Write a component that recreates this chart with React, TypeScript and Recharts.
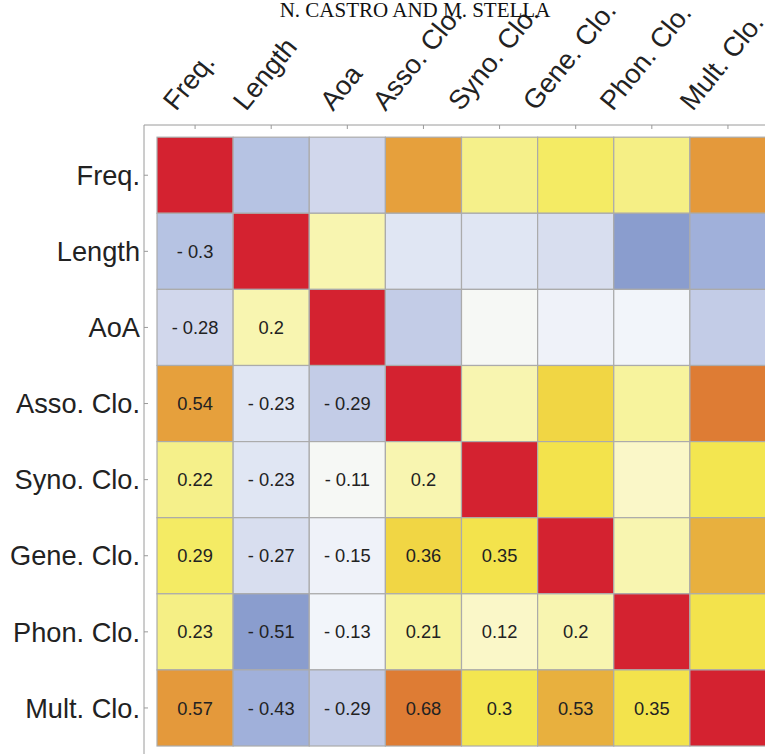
import { ScatterChart, Scatter, XAxis, YAxis } from 'recharts';

// row labels (left) and column labels (top) as printed
const rowLabels = ['Freq.', 'Length', 'AoA', 'Asso. Clo.', 'Syno. Clo.', 'Gene. Clo.', 'Phon. Clo.', 'Mult. Clo.'];
const columnLabels = ['Freq.', 'Length', 'Aoa', 'Asso. Clo.', 'Syno. Clo.', 'Gene. Clo.', 'Phon. Clo.', 'Mult. Clo.'];

// lower triangle of the correlation matrix, one array per row
const freqRow: number[] = [];
const lengthRow = [-0.3];
const aoaRow = [-0.28, 0.2];
const assoRow = [0.54, -0.23, -0.29];
const synoRow = [0.22, -0.23, -0.11, 0.2];
const geneRow = [0.29, -0.27, -0.15, 0.36, 0.35];
const phonRow = [0.23, -0.51, -0.13, 0.21, 0.12, 0.2];
const multRow = [0.57, -0.43, -0.29, 0.68, 0.3, 0.53, 0.35];

const lowerRows = [freqRow, lengthRow, aoaRow, assoRow, synoRow, geneRow, phonRow, multRow];
const tickPositions = [0.5, 1.5, 2.5, 3.5, 4.5, 5.5, 6.5, 7.5];

const CELL_W = 76.125;
const CELL_H = 76.1;
const FRAME = '#9a9a9a';
const LABEL_FONT = '"Liberation Sans", Arial, sans-serif';
const LABEL_SIZE = 27.2;

// colour scale stops
const colorStops: [number, string][] = [
  [-0.51, '#8a9dce'],
  [-0.43, '#a0b0da'],
  [-0.3, '#b6c3e3'],
  [-0.29, '#c3cce7'],
  [-0.28, '#d1d7ec'],
  [-0.27, '#d8deef'],
  [-0.23, '#e0e6f3'],
  [-0.15, '#eff2f9'],
  [-0.13, '#f2f5fa'],
  [-0.11, '#f6f8f5'],
  [0.12, '#faf7c8'],
  [0.2, '#f8f5b0'],
  [0.22, '#f5f08a'],
  [0.29, '#f4eb64'],
  [0.3, '#f3e650'],
  [0.35, '#f3e34c'],
  [0.36, '#f1d644'],
  [0.53, '#e8b03e'],
  [0.54, '#e6a03c'],
  [0.57, '#e4993b'],
  [0.68, '#de7c34'],
  [1, '#d42230'],
];

function hexToRgb(h: string) {
  return [1, 3, 5].map((i) => parseInt(h.slice(i, i + 2), 16));
}

function colorFor(v: number): string {
  if (v <= colorStops[0][0]) return colorStops[0][1];
  for (let i = 1; i < colorStops.length; i++) {
    const [v1, c1] = colorStops[i];
    if (v <= v1) {
      const [v0, c0] = colorStops[i - 1];
      const t = (v - v0) / (v1 - v0);
      const a = hexToRgb(c0);
      const b = hexToRgb(c1);
      const rgb = a.map((x, k) => Math.round(x + (b[k] - x) * t));
      return `rgb(${rgb.join(',')})`;
    }
  }
  return colorStops[colorStops.length - 1][1];
}

function valueAt(r: number, c: number): number {
  if (r === c) return 1;
  return r > c ? lowerRows[r][c] : lowerRows[c][r];
}

const cells = rowLabels.flatMap((_, r) =>
  columnLabels.map((__, c) => ({
    x: c + 0.5,
    y: r + 0.5,
    v: valueAt(r, c),
    labelled: r > c,
  }))
);

function formatValue(v: number) {
  return v < 0 ? `- ${Math.abs(v)}` : `${v}`;
}

function Cell(props: any) {
  const { cx, cy, payload } = props;
  return (
    <g>
      <rect
        x={cx - CELL_W / 2}
        y={cy - CELL_H / 2}
        width={CELL_W}
        height={CELL_H}
        fill={colorFor(payload.v)}
        stroke="#ababab"
        strokeWidth={1.2}
      />
      {payload.labelled && (
        <text
          x={cx}
          y={cy + 6.6}
          textAnchor="middle"
          fontSize={18.3}
          fontFamily={LABEL_FONT}
          fill="#222"
        >
          {formatValue(payload.v)}
        </text>
      )}
    </g>
  );
}

let measureCtx: CanvasRenderingContext2D | null = null;
function textWidth(s: string) {
  if (!measureCtx) measureCtx = document.createElement('canvas').getContext('2d');
  if (!measureCtx) return s.length * LABEL_SIZE * 0.5;
  measureCtx.font = `${LABEL_SIZE}px "Liberation Sans"`;
  return measureCtx.measureText(s).width;
}

function TopTick(props: any) {
  const { x, payload } = props;
  const label = columnLabels[Math.floor(payload.value)];
  const w = textWidth(label);
  const angle = 51;
  const mx = x + 1;
  const my = 112 - (w / 2) * Math.sin((angle * Math.PI) / 180);
  return (
    <g>
      <line x1={x} x2={x} y1={125} y2={129} stroke={FRAME} />
      <text
        x={mx}
        y={my}
        textAnchor="middle"
        fontSize={LABEL_SIZE}
        fontFamily={LABEL_FONT}
        fill="#222"
        transform={`rotate(-${angle}, ${mx}, ${my})`}
      >
        {label}
      </text>
    </g>
  );
}

function LeftTick(props: any) {
  const { y, payload } = props;
  const label = rowLabels[Math.floor(payload.value)];
  return (
    <g>
      <line x1={144} x2={148} y1={y} y2={y} stroke={FRAME} />
      <text
        x={140}
        y={y + 9.7}
        textAnchor="end"
        fontSize={LABEL_SIZE}
        fontFamily={LABEL_FONT}
        fill="#222"
      >
        {label}
      </text>
    </g>
  );
}

export default function App() {
  return (
    <div style={{ position: 'absolute', left: 0, top: 0, width: 765, height: 754, overflow: 'hidden', background: '#fff' }}>
      <div style={{ position: 'absolute', left: 0, top: 0 }}>
        <ScatterChart width={767} height={754} margin={{ top: 0, right: 1, bottom: 0, left: 0 }}>
          <XAxis
            type="number"
            dataKey="x"
            orientation="top"
            domain={[-0.171, 8]}
            allowDataOverflow
            ticks={tickPositions}
            height={125}
            axisLine={{ stroke: FRAME }}
            tickLine={false}
            tick={<TopTick />}
            interval={0}
          />
          <YAxis
            type="number"
            dataKey="y"
            domain={[-0.16, 8.105]}
            allowDataOverflow
            reversed
            ticks={tickPositions}
            width={144}
            axisLine={{ stroke: FRAME }}
            tickLine={false}
            tick={<LeftTick />}
            interval={0}
          />
          <Scatter data={cells} shape={<Cell />} isAnimationActive={false} />
        </ScatterChart>
      </div>
      <div
        style={{
          position: 'absolute',
          left: 0,
          width: 830,
          top: 0,
          textAlign: 'center',
          fontFamily: '"Liberation Serif", "Times New Roman", serif',
          fontSize: 21,
          lineHeight: '21px',
          color: '#111',
          whiteSpace: 'nowrap',
          pointerEvents: 'none',
        }}
      >
        N. CASTRO AND M. STELLA
      </div>
    </div>
  );
}
